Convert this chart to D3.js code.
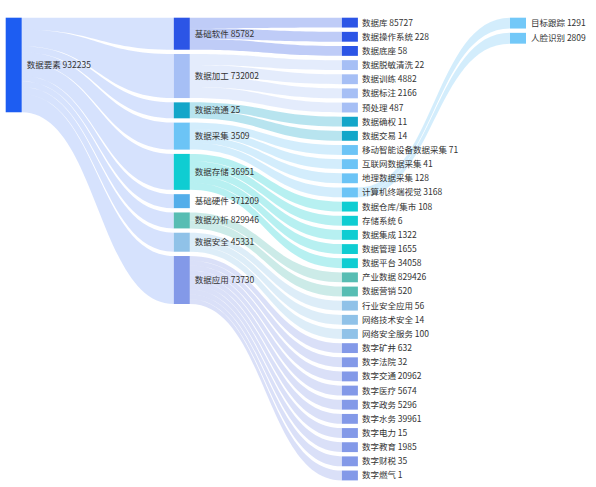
<!DOCTYPE html>
<html>
<head>
<meta charset="utf-8">
<style>
  body { margin: 0; background: #fff; }
  .label { font-family: "Noto Sans CJK SC", "Microsoft YaHei", sans-serif; font-size: 8.5px; fill: #333; }
</style>
</head>
<body>
<div id="vis"></div>
<script src="https://cdn.jsdelivr.net/npm/d3@7/dist/d3.min.js"></script>
<script>
// root node
var rootName = '数据要素';
var rootValue = 932235;
var rootFlow = 9.6;

// second column
var categories = ['基础软件', '数据加工', '数据流通', '数据采集', '数据存储',
  '基础硬件', '数据分析', '数据安全', '数据应用'];
var categoryValues = [85782, 732002, 25, 3509, 36951, 371209, 829946, 45331, 73730];
// band weights (not the label values)
var categoryFlows = [3.25, 4.47, 1.62, 2.74, 3.65, 1.42, 1.62, 1.93, 4.87];

// third column
var leaves = ['数据库', '数据操作系统', '数据底座',
  '数据脱敏清洗', '数据训练', '数据标注', '预处理',
  '数据确权', '数据交易',
  '移动智能设备数据采集', '互联网数据采集', '地理数据采集', '计算机终端视觉',
  '数据仓库/集市', '存储系统', '数据集成', '数据管理', '数据平台',
  '产业数据', '数据营销',
  '行业安全应用', '网络技术安全', '网络安全服务',
  '数字矿井', '数字法院', '数字交通', '数字医疗', '数字政务',
  '数字水务', '数字电力', '数字教育', '数字财税', '数字燃气'];
var leafValues = [85727, 228, 58,
  22, 4882, 2166, 487,
  11, 14,
  71, 41, 128, 3168,
  108, 6, 1322, 1655, 34058,
  829426, 520,
  56, 14, 100,
  632, 32, 20962, 5674, 5296,
  39961, 15, 1985, 35, 1];
var leafParents = ['基础软件', '基础软件', '基础软件',
  '数据加工', '数据加工', '数据加工', '数据加工',
  '数据流通', '数据流通',
  '数据采集', '数据采集', '数据采集', '数据采集',
  '数据存储', '数据存储', '数据存储', '数据存储', '数据存储',
  '数据分析', '数据分析',
  '数据安全', '数据安全', '数据安全',
  '数据应用', '数据应用', '数据应用', '数据应用', '数据应用',
  '数据应用', '数据应用', '数据应用', '数据应用', '数据应用'];
var leafFlow = 1;

// fourth column
var visionSource = '计算机终端视觉';
var visionTargets = ['目标跟踪', '人脸识别'];
var visionValues = [1291, 2809];
var visionFlows = [1.1, 1.1];

// colours
var rootColor = '#1d5df2';
var categoryColors = ['#2c55e6', '#a6bff5', '#13a6c9', '#6cc4f6', '#0fcdd2',
  '#53aeea', '#57bdb3', '#90c2e8', '#8399e8'];
var visionColor = '#72c8f8';

var width = 596;
var height = 487;
var marginTop = 17.7;
var marginBottom = 480.4;
var nodeWidth = 16;
var nodePadding = 4.3;

function buildGraph() {
  var nodes = [];
  var links = [];
  var byName = {};

  function addNode(name, value, flow, col, color) {
    var n = { name: name, value: value, flow: flow, col: col, color: color, out: [], inc: [] };
    nodes.push(n);
    byName[name] = n;
    return n;
  }
  function addLink(s, t) {
    var l = { source: s, target: t, flow: t.flow };
    s.out.push(l);
    t.inc.push(l);
    links.push(l);
  }

  var root = addNode(rootName, rootValue, rootFlow, 0, rootColor);
  categories.forEach(function (c, i) {
    addLink(root, addNode(c, categoryValues[i], categoryFlows[i], 1, categoryColors[i]));
  });
  leaves.forEach(function (c, i) {
    var p = byName[leafParents[i]];
    addLink(p, addNode(c, leafValues[i], leafFlow, 2, p.color));
  });
  visionTargets.forEach(function (c, i) {
    addLink(byName[visionSource], addNode(c, visionValues[i], visionFlows[i], 3, visionColor));
  });

  return { nodes: nodes, links: links };
}

function layout(graph) {
  var x = d3.scaleLinear().domain([0, 3]).range([5.7, 510]);
  var columns = Array.from(d3.group(graph.nodes, function (d) { return d.col; }).values());

  // same px-per-flow for all columns, fitted to the fullest one
  var ky = d3.min(columns, function (col) {
    return (marginBottom - marginTop - (col.length - 1) * nodePadding) / d3.sum(col, function (d) { return d.flow; });
  });
  var y = d3.scaleLinear().domain([0, 1]).range([0, ky]);

  columns.forEach(function (col) {
    var y0 = marginTop;
    col.forEach(function (n) {
      n.x0 = x(n.col);
      n.x1 = n.x0 + nodeWidth;
      n.y0 = y0;
      n.y1 = y0 + y(n.flow);
      y0 = n.y1 + nodePadding;
    });
  });

  // each band takes its share of the source and of the target
  graph.nodes.forEach(function (n) {
    var sumOut = d3.sum(n.out, function (l) { return l.flow; });
    var sy = n.y0;
    n.out.forEach(function (l) {
      l.sy0 = sy;
      sy += (n.y1 - n.y0) * l.flow / sumOut;
      l.sy1 = sy;
    });
    var sumIn = d3.sum(n.inc, function (l) { return l.flow; });
    var ty = n.y0;
    n.inc.forEach(function (l) {
      l.ty0 = ty;
      ty += (n.y1 - n.y0) * l.flow / sumIn;
      l.ty1 = ty;
    });
  });
}

function bandPath(l) {
  var x0 = l.source.x1;
  var x1 = l.target.x0;
  var xm = (x0 + x1) / 2;
  return 'M' + x0 + ',' + l.sy0 +
    'C' + xm + ',' + l.sy0 + ' ' + xm + ',' + l.ty0 + ' ' + x1 + ',' + l.ty0 +
    'L' + x1 + ',' + l.ty1 +
    'C' + xm + ',' + l.ty1 + ' ' + xm + ',' + l.sy1 + ' ' + x0 + ',' + l.sy1 + 'Z';
}

function chart(selector) {
  var graph = buildGraph();
  layout(graph);

  var svg = d3.select(selector)
    .append('svg')
    .attr('width', width)
    .attr('height', height);

  svg.append('g')
    .attr('class', 'links')
    .selectAll('path')
    .data(graph.links)
    .enter().append('path')
    .attr('d', bandPath)
    .attr('fill', function (d) { return d.source.color; })
    .attr('fill-opacity', function (d) { return d.source.col === 0 ? 0.18 : 0.3; });

  svg.append('g')
    .attr('class', 'nodes')
    .selectAll('rect')
    .data(graph.nodes)
    .enter().append('rect')
    .attr('x', function (d) { return d.x0; })
    .attr('y', function (d) { return d.y0; })
    .attr('width', function (d) { return d.x1 - d.x0; })
    .attr('height', function (d) { return d.y1 - d.y0; })
    .attr('fill', function (d) { return d.color; });

  svg.append('g')
    .attr('class', 'labels')
    .selectAll('text')
    .data(graph.nodes)
    .enter().append('text')
    .attr('class', 'label')
    .attr('x', function (d) { return d.x1 + (d.col === 2 ? 4 : 5); })
    .attr('y', function (d) { return (d.y0 + d.y1) / 2; })
    .attr('dy', '0.35em')
    .text(function (d) { return d.name + ' ' + d.value; });
}

chart('#vis');
</script>
</body>
</html>
